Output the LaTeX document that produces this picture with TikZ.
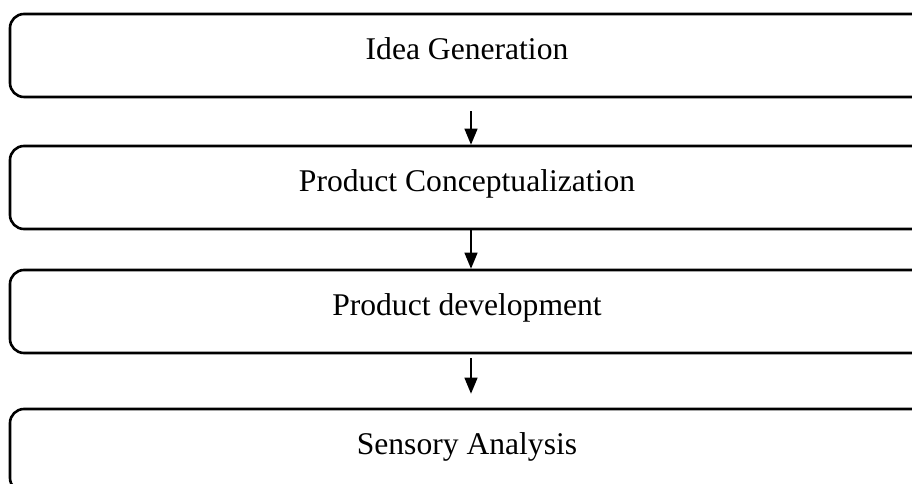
\documentclass[tikz,border=0pt]{standalone}
\usepackage{fontspec}
\setmainfont{Liberation Serif}
\usetikzlibrary{arrows.meta}
\begin{document}
\begin{tikzpicture}[x=1pt,y=1pt,
  stagebox/.style={draw=black, line width=2.6pt, rounded corners=14pt, minimum width=922pt, minimum height=83pt, inner sep=0pt},
  stagetext/.style={anchor=base, font=\fontsize{31.6}{36}\selectfont, inner sep=0pt},
  flow/.style={line width=1.3pt, -{Triangle[width=13pt,length=16pt]}}]
\useasboundingbox (0,0) rectangle (912,484);
\clip (0,0) rectangle (912,484);
\node[stagebox] (b1) at (471,428.5) {};
\node[stagebox] (b2) at (471,296.5) {};
\node[stagebox] (b3) at (471,172.5) {};
\node[stagebox] (b4) at (471,33.5) {};
\node[stagetext] (t1) at (467,424) {Idea Generation};
\node[stagetext] (t2) at (467,292) {Product Conceptualization};
\node[stagetext] (t3) at (467,168) {Product development};
\node[stagetext] (t4) at (467,29) {Sensory Analysis};
\draw[flow] ([yshift=-13pt]b1.south) -- (b2.north);
\draw[flow] (b2.south) -- (b3.north);
\draw[flow] ([yshift=-4pt]b3.south) -- ([yshift=14pt]b4.north);
\end{tikzpicture}
\end{document}
